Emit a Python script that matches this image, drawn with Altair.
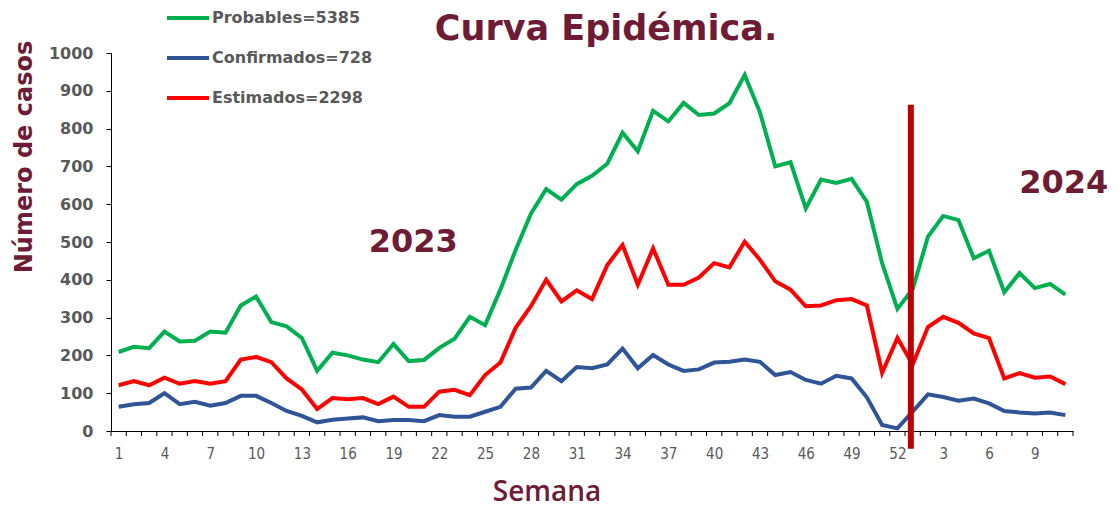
import altair as alt
import pandas as pd

# ---------------- data ----------------
weeks_2023 = list(range(1, 53))
weeks_2024 = list(range(1, 12))

probables = [209, 223, 219, 263, 237, 239, 263, 260, 332, 356, 288, 277, 246, 159, 207, 200, 189, 182, 230, 185, 188, 220,
             244, 302, 280, 374, 479, 575, 640, 612, 653, 675, 707, 789, 740, 847, 819, 868, 836, 840, 867, 942,
             843, 700, 711, 589, 665, 656, 667, 606, 444, 323, 375, 514, 569, 558, 457, 477, 367, 418, 378, 389, 361]
confirmados = [64, 71, 74, 100, 71, 77, 67, 74, 93, 93, 74, 53, 40, 23, 30, 33, 36, 26, 29, 29, 26, 42,
               38, 38, 51, 64, 112, 115, 159, 132, 169, 166, 176, 218, 166, 201, 176, 159, 163, 181, 183, 189,
               183, 148, 156, 135, 125, 146, 139, 89, 16, 7, 51, 97, 90, 80, 86, 73, 53, 49, 46, 49, 42]
estimados = [121, 132, 121, 141, 125, 132, 125, 132, 189, 196, 182, 139, 110, 58, 87, 84, 87, 71, 91, 64, 64, 104,
             109, 95, 148, 181, 273, 330, 400, 343, 372, 349, 439, 492, 387, 483, 387, 387, 406, 444, 433, 501,
             453, 396, 374, 330, 332, 346, 349, 332, 154, 246, 176, 275, 302, 286, 258, 246, 139, 153, 141, 144, 124]

series_names = ["Probables", "Confirmados", "Estimados"]
series_totals = [5385, 728, 2298]
series_colors = ["#00B050", "#2F5597", "#FF0000"]

year_labels = ["2023", "2024"]
year_pos_idx = [19.3, 61.9]
year_pos_val = [474, 630]
divider_idx = 51.88

MAROON = "#6E1B36"
GRAY = "#595959"

week_labels = weeks_2023 + weeks_2024
n = len(week_labels)

rows = []
for name, vals in zip(series_names, [probables, confirmados, estimados]):
    for i, v in enumerate(vals):
        rows.append({"idx": i, "semana": str(week_labels[i]), "serie": name, "casos": v})
df = pd.DataFrame(rows)

W, H = 962, 378

x_scale = alt.Scale(domain=[-0.5, n - 0.5], nice=False, zero=False)
y_scale = alt.Scale(domain=[0, 1000], nice=False)

label_idx = list(range(0, n, 3))
label_map = "{" + ",".join(f"'{i}':'{week_labels[i]}'" for i in label_idx) + "}"

x_axis = alt.Axis(
    values=label_idx,
    title=None,
    grid=False,
    labelExpr=f"{label_map}[''+datum.value]",
    labelOverlap=False,
    labelFlush=False,
    labelFont="DejaVu Sans Condensed, Liberation Sans, sans-serif",
    labelFontSize=15,
    labelColor=GRAY,
    labelPadding=15,
    ticks=False,
    domainColor="black",
)
y_axis = alt.Axis(
    values=list(range(0, 1001, 100)),
    format="d",
    title=None,
    grid=False,
    labelOverlap=False,
    labelFont="DejaVu Sans",
    labelFontWeight="bold",
    labelFontSize=16,
    labelColor=GRAY,
    labelPadding=13,
    tickSize=5,
    tickColor="black",
    domainColor="black",
)

lines = alt.Chart(df).mark_line(strokeWidth=4).encode(
    x=alt.X("idx:Q", scale=x_scale, axis=x_axis),
    y=alt.Y("casos:Q", scale=y_scale, axis=y_axis),
    color=alt.Color("serie:N", scale=alt.Scale(domain=series_names, range=series_colors), legend=None),
    detail="serie:N",
)

# tick marks at category boundaries (Excel-style category axis)
bounds = pd.DataFrame({"b": [i - 0.5 for i in range(n + 1)]})
xticks = alt.Chart(bounds).mark_rule(color="black", strokeWidth=1).encode(
    x=alt.X("b:Q", scale=x_scale, axis=x_axis),
    y=alt.value(H),
    y2=alt.value(H + 5),
)

divider = alt.Chart(pd.DataFrame({"x": [divider_idx], "y": [863], "y2": [-47]})).mark_rule(
    color="#C00000", strokeWidth=6
).encode(
    x=alt.X("x:Q", scale=x_scale, axis=x_axis),
    y=alt.Y("y:Q", scale=y_scale, axis=y_axis),
    y2="y2:Q",
)

years = alt.Chart(pd.DataFrame({"t": year_labels, "x": year_pos_idx, "y": year_pos_val})).mark_text(
    font="DejaVu Sans", fontWeight="bold", fontSize=32, color=MAROON, align="center", baseline="alphabetic"
).encode(
    x=alt.X("x:Q", scale=x_scale, axis=x_axis),
    y=alt.Y("y:Q", scale=y_scale, axis=y_axis),
    text="t:N",
)

one = pd.DataFrame({"a": [0]})

title = alt.Chart(one).mark_text(
    font="DejaVu Sans", fontWeight="bold", fontSize=35, color=MAROON,
    align="center", baseline="alphabetic"
).encode(x=alt.value(495), y=alt.value(-13), text=alt.value("Curva Epidémica."))

leg_df = pd.DataFrame({
    "serie": series_names,
    "label": [f"{s}={t}" for s, t in zip(series_names, series_totals)],
    "py": [-35, 5, 45],
})
leg_lines = alt.Chart(leg_df).mark_rule(strokeWidth=4).encode(
    x=alt.value(56), x2=alt.value(98),
    y=alt.Y("py:Q", scale=None),
    color=alt.Color("serie:N", scale=alt.Scale(domain=series_names, range=series_colors), legend=None),
)
leg_text = alt.Chart(leg_df).mark_text(
    font="DejaVu Sans", fontWeight="bold", fontSize=16, color=GRAY, align="left", baseline="middle"
).encode(
    x=alt.value(101),
    y=alt.Y("py:Q", scale=None),
    text="label:N",
)

y_title = alt.Chart(one).mark_text(
    font="DejaVu Sans", fontWeight="bold", fontSize=24, color=MAROON, angle=270,
    align="center", baseline="alphabetic"
).encode(x=alt.value(-79), y=alt.value(104), text=alt.value("Número de casos"))

x_title = alt.Chart(one).mark_text(
    font="Open Sans", fontWeight=600, fontSize=28, color=MAROON,
    align="center", baseline="alphabetic"
).encode(x=alt.value(436), y=alt.value(448), text=alt.value("Semana"))

chart = alt.layer(
    lines, xticks, divider, years, title, leg_lines, leg_text, y_title, x_title
).properties(
    width=W, height=H,
    autosize=alt.AutoSizeParams(type="none"),
    padding={"left": 103, "top": 45, "right": 38, "bottom": 82},
    background="white",
).configure_view(stroke=None)

chart.save("out.html", embed_options={"renderer": "svg", "actions": False})
